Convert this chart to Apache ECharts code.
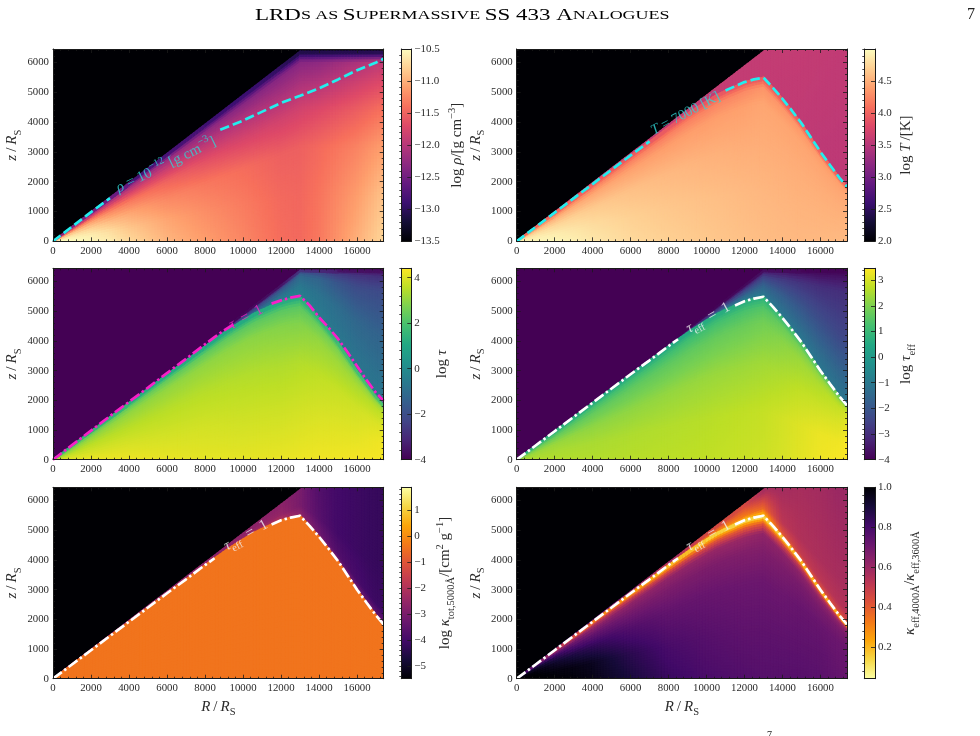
<!DOCTYPE html>
<html>
<head>
<meta charset="utf-8">
<style>html,body{margin:0;padding:0;background:#fff}#chart{width:980px;height:736px}</style>
<script src="https://cdn.jsdelivr.net/npm/echarts@6/dist/echarts.min.js"></script>
</head>
<body>
<div id="chart"></div>
<script>
// Sequential colour maps, evenly spaced stops
const magmaStops = ['#000004','#140e36','#3b0f70','#641a80','#8c2981','#b73779','#de4968','#f7705c','#fe9f6d','#fecf92','#fcfdbf'];
const infernoStops = ['#000004','#160b39','#420a68','#6a176e','#932667','#bc3754','#dd513a','#f37819','#fca50a','#f6d746','#fcffa4'];
const viridisStops = ['#440154','#482475','#414487','#355f8d','#2a788e','#21918c','#22a884','#44bf70','#7ad151','#bddf26','#fde725'];
const infernoReversed = infernoStops.slice().reverse();

// Colour bar ranges and tick values
const rhoRange = [-13.5, -10.5];
const rhoTicks = [-13.5, -13, -12.5, -12, -11.5, -11, -10.5];
const tempRange = [2, 5.01];
const tempTicks = [2, 2.5, 3, 3.5, 4, 4.5];
const tauRange = [-4, 4.41];
const tauTicks = [-4, -2, 0, 2, 4];
const tauEffRange = [-4, 3.46];
const tauEffTicks = [-4, -3, -2, -1, 0, 1, 2, 3];
const kappaRange = [-5.49, 1.87];
const kappaTicks = [-5, -4, -3, -2, -1, 0, 1];
const ratioRange = [0.042, 1];
const ratioTicks = [0.2, 0.4, 0.6, 0.8, 1];

// Spatial axes
const rMax = 17400;
const zMax = 6450;

// Edge of the simulated wedge
const wedgeR = [0, 13000, 17400];
const wedgeZ = [0, 6370, 6370];
const wedgeTallR = [0, 13200, 17400];
const wedgeTallZ = [0, 6460, 6460];

// Photosphere surface (tau_eff = 1) in R and z
const surfaceR = [0,1000,2000,3000,4000,5000,6000,7000,8000,8500,9000,9500,10000,10500,11000,11500,12000,12500,13000,13500,14000,14500,15000,15500,16000,16500,17000,17400];
const surfaceZ = [0,480,960,1440,1920,2400,2880,3350,3830,4060,4290,4500,4700,4900,5060,5200,5340,5430,5490,5150,4780,4380,3960,3480,3000,2560,2130,1830];
const tauContourZ = [0,490,980,1470,1950,2430,2920,3400,3890,4130,4360,4560,4760,4950,5110,5260,5370,5460,5520,5200,4800,4450,4070,3620,3150,2680,2250,1980];
const rhoContourR = [0,1000,2000,3000,8800,10000,12000,13000,14000,15000,16000,17000,17400];
const rhoContourZ = [0,490,980,1450,3740,4050,4640,4880,5130,5430,5740,6000,6120];

// Field grids: columns in R, rows as a fraction of the local height
const rhoColumns = [0,1000,2000,3000,4000,6000,8000,10000,12000,13000,14000,16000,17400];
const rhoLevels = [0,0.25,0.5,0.7,0.85,0.95,1];
const rhoValues = [
  [-10.5,-10.5,-10.55,-10.6,-10.72,-10.95,-11.1,-11.25,-11.42,-11.45,-11.35,-11.0,-10.75],
  [-10.5,-10.55,-10.6,-10.7,-10.85,-11.05,-11.2,-11.32,-11.45,-11.47,-11.38,-11.12,-10.88],
  [-10.7,-10.7,-10.8,-10.95,-11.05,-11.25,-11.35,-11.42,-11.52,-11.52,-11.45,-11.28,-11.1],
  [-10.9,-11.0,-11.1,-11.25,-11.35,-11.5,-11.65,-11.75,-11.8,-11.8,-11.72,-11.55,-11.4],
  [-11.4,-11.5,-11.6,-11.7,-11.8,-11.9,-12.0,-12.06,-12.12,-12.12,-12.06,-11.85,-11.72],
  [-12.05,-12.1,-12.15,-12.15,-12.2,-12.25,-12.3,-12.35,-12.35,-12.35,-12.3,-12.1,-11.95],
  [-12.7,-12.7,-12.8,-12.9,-13,-13,-13,-13,-13.1,-13.2,-13.2,-13.2,-13.2]
];

const innerColumns = [0,1000,2000,3000,4000,6000,8000,10000,12000,13000,14000,15000,16000,17000,17400];
const innerLevels = [0,0.3,0.6,0.85,0.95,1];
const outerColumns = [0,4000,8000,10000,11000,12000,13000,14000,15000,16000,17000,17400];

const tempInner = [
  [4.93,4.96,4.97,4.93,4.87,4.78,4.72,4.67,4.62,4.6,4.58,4.57,4.57,4.58,4.58],
  [4.93,4.93,4.9,4.85,4.8,4.72,4.66,4.62,4.58,4.56,4.55,4.54,4.54,4.54,4.54],
  [4.85,4.8,4.75,4.72,4.68,4.62,4.57,4.53,4.5,4.5,4.5,4.5,4.5,4.5,4.5],
  [4.6,4.55,4.5,4.47,4.45,4.42,4.4,4.4,4.42,4.45,4.45,4.45,4.45,4.45,4.45],
  [4.3,4.25,4.2,4.2,4.2,4.2,4.2,4.22,4.27,4.33,4.35,4.36,4.38,4.4,4.4],
  [3.9,3.9,3.88,3.88,3.86,3.86,3.86,3.86,3.88,3.9,3.9,3.92,3.92,3.92,3.92]
];
const tempOuterLevels = [0,1];
const tempOuter = [
  [3.6,3.6,3.6,3.6,3.6,3.6,3.6,3.59,3.58,3.56,3.55,3.55],
  [3.6,3.6,3.6,3.6,3.6,3.6,3.6,3.6,3.6,3.59,3.58,3.58]
];

const tauInner = [
  [4.0,4.1,4.2,4.2,4.2,4.15,4.1,4.1,4.15,4.2,4.25,4.25,4.3,4.3,4.3],
  [3.7,3.9,3.9,3.9,3.9,3.85,3.85,3.8,3.8,3.85,3.95,4.0,4.05,4.2,4.25],
  [3.2,3.4,3.5,3.5,3.5,3.5,3.5,3.45,3.4,3.45,3.6,3.7,3.8,3.95,4.0],
  [2.5,2.8,2.9,2.95,3.0,3.0,3.0,2.95,2.85,2.8,3.05,3.15,3.3,3.5,3.6],
  [1.8,2.1,2.3,2.3,2.3,2.3,2.3,2.25,2.2,2.2,2.5,2.7,2.85,3.0,3.1],
  [0.6,0.8,0.8,0.8,0.8,0.8,0.8,0.9,1.0,1.1,1.3,1.4,1.5,1.6,1.7]
];
const tauOuterLevels = [0,0.15,0.5,0.85,0.97,1];
const tauOuter = [
  [0,0,0,0,0,0,-0.2,-0.5,-0.6,-0.7,-0.7,-0.7],
  [-1,-1,-1,-1,-0.6,-0.4,-0.4,-0.6,-0.7,-0.8,-0.8,-0.8],
  [-2.5,-2.5,-2.5,-2,-1.6,-1,-0.7,-0.8,-1,-1.2,-1.3,-1.3],
  [-3.5,-3.5,-3.3,-3,-2.5,-2,-1.2,-1.3,-1.8,-2.1,-2.1,-2.1],
  [-3.9,-3.9,-3.9,-3.8,-3.5,-3.2,-2,-2.2,-2.6,-2.8,-2.9,-2.9],
  [-4,-4,-4,-4,-4,-4,-3.5,-3.8,-3.9,-3.9,-3.9,-3.9]
];

const tauEffInner = [
  [2.5,2.6,2.6,2.6,2.6,2.65,2.7,2.75,2.85,2.9,3.0,3.15,3.3,3.4,3.4],
  [2.4,2.5,2.5,2.5,2.5,2.55,2.6,2.65,2.75,2.8,2.95,3.1,3.25,3.3,3.4],
  [2.3,2.3,2.3,2.25,2.2,2.2,2.25,2.3,2.35,2.4,2.55,2.75,2.9,3.05,3.2],
  [1.7,1.7,1.65,1.6,1.6,1.6,1.6,1.65,1.75,1.85,2.1,2.35,2.55,2.8,2.95],
  [1.1,1.1,1.1,1.1,1.1,1.1,1.1,1.15,1.25,1.35,1.7,1.95,2.2,2.4,2.6],
  [0.4,0.4,0.4,0.4,0.4,0.4,0.4,0.5,0.6,0.7,1.0,1.2,1.4,1.6,1.8]
];
const tauEffOuterLevels = [0,0.15,0.5,0.85,0.97,1];
const tauEffOuter = [
  [0,0,0,0,0,-0.2,-0.7,-0.9,-0.95,-1.0,-1.05,-1.05],
  [-1.5,-1.5,-1.5,-1.3,-1.0,-0.9,-1.1,-1.2,-1.25,-1.3,-1.4,-1.4],
  [-3,-3,-3,-2.7,-2.2,-1.8,-1.7,-1.8,-2,-2.2,-2.4,-2.4],
  [-3.8,-3.8,-3.7,-3.5,-3.3,-3,-2.7,-2.8,-2.9,-3,-3.0,-3.0],
  [-4,-4,-4,-3.9,-3.8,-3.7,-3.4,-3.5,-3.6,-3.7,-3.7,-3.7],
  [-4,-4,-4,-4,-4,-4,-4,-4,-4,-4,-4,-4]
];

const kappaInnerLevels = [0,1];
const kappaInner = [
  [-0.42,-0.42,-0.42,-0.42,-0.42,-0.42,-0.42,-0.42,-0.42,-0.42,-0.42,-0.42,-0.42,-0.42,-0.42],
  [-0.42,-0.42,-0.42,-0.42,-0.42,-0.42,-0.42,-0.42,-0.42,-0.42,-0.42,-0.42,-0.42,-0.42,-0.42]
];
const kappaOuterLevels = [0,0.03,0.1,0.4,1];
const kappaOuter = [
  [-1,-1,-1,-1,-1,-1,-1.2,-1.2,-1.2,-1.2,-1.2,-1.2],
  [-1.5,-1.5,-1.5,-1.5,-1.5,-1.5,-2,-2.6,-3,-3.2,-3.5,-3.5],
  [-2,-2,-2,-2,-2,-2,-2.6,-3.2,-3.7,-3.9,-4.1,-4.1],
  [-2.5,-2.5,-2.5,-2.5,-2.5,-2.5,-3.0,-3.6,-4.0,-4.1,-4.2,-4.2],
  [-2.7,-2.7,-2.7,-2.7,-2.7,-2.7,-3.0,-3.7,-4.0,-4.1,-4.2,-4.2]
];

const ratioInnerLevels = [0,0.3,0.6,0.8,0.9,0.96,1];
const ratioInner = [
  [1,1,1,0.99,0.97,0.9,0.83,0.79,0.77,0.76,0.76,0.76,0.75,0.73,0.72],
  [1,1,0.98,0.97,0.95,0.86,0.79,0.76,0.74,0.74,0.74,0.74,0.74,0.72,0.72],
  [1,0.98,0.93,0.88,0.84,0.77,0.73,0.72,0.71,0.71,0.71,0.72,0.72,0.71,0.71],
  [0.98,0.93,0.85,0.76,0.72,0.68,0.67,0.67,0.66,0.66,0.67,0.68,0.68,0.68,0.68],
  [0.95,0.85,0.75,0.67,0.63,0.62,0.62,0.61,0.6,0.62,0.63,0.63,0.63,0.63,0.63],
  [0.9,0.75,0.62,0.55,0.52,0.46,0.42,0.4,0.38,0.4,0.44,0.48,0.5,0.5,0.5],
  [0.85,0.65,0.5,0.35,0.25,0.2,0.12,0.1,0.1,0.1,0.1,0.12,0.12,0.12,0.12]
];
const ratioOuterLevels = [0,0.03,0.1,0.3,1];
const ratioOuter = [
  [0.85,0.3,0.1,0.08,0.08,0.08,0.08,0.1,0.12,0.12,0.12,0.12],
  [0.9,0.35,0.15,0.1,0.1,0.1,0.1,0.3,0.38,0.42,0.45,0.45],
  [0.95,0.4,0.2,0.16,0.16,0.18,0.2,0.42,0.5,0.52,0.54,0.54],
  [1,0.6,0.35,0.3,0.3,0.32,0.36,0.52,0.55,0.56,0.57,0.57],
  [1,0.9,0.7,0.5,0.48,0.46,0.58,0.58,0.57,0.58,0.6,0.6]
];

// ---- drawing helpers ----
const SERIF = '"Liberation Serif"';
const INK = '#2b2b2b';
const NAME_SIZE = 15;

function hexRgb(h) { return [1, 3, 5].map(i => parseInt(h.substr(i, 2), 16)); }

function colourAt(stops, v, range) {
  let t = (v - range[0]) / (range[1] - range[0]);
  t = Math.min(1, Math.max(0, t)) * (stops.length - 1);
  const i = Math.min(stops.length - 2, Math.floor(t));
  const a = hexRgb(stops[i]), b = hexRgb(stops[i + 1]), f = t - i;
  return 'rgb(' + a.map((c, k) => Math.round(c + (b[k] - c) * f)).join(',') + ')';
}

function polyline(xs, ys) {
  return function (x) {
    if (x <= xs[0]) return ys[0];
    for (let i = 1; i < xs.length; i++) {
      if (x <= xs[i]) return ys[i - 1] + (ys[i] - ys[i - 1]) * (x - xs[i - 1]) / (xs[i] - xs[i - 1]);
    }
    return ys[ys.length - 1];
  };
}
const ground = () => 0;
const surface = polyline(surfaceR, surfaceZ);
const wedge = polyline(wedgeR, wedgeZ);
const wedgeTall = polyline(wedgeTallR, wedgeTallZ);

// Shaded field on a grid that follows the region's lower and upper edges;
// each cell is drawn with smooth shading between its four corner values.
function fieldSeries(axis, columns, levels, values, lower, upper, stops, range) {
  const cells = [];
  for (let j = 0; j < levels.length - 1; j++) {
    for (let i = 0; i < columns.length - 1; i++) {
      cells.push([columns[i], columns[i + 1], levels[j], levels[j + 1],
        values[j][i], values[j][i + 1], values[j + 1][i], values[j + 1][i + 1]]);
    }
  }
  return {
    type: 'custom', coordinateSystem: 'cartesian2d', xAxisIndex: axis, yAxisIndex: axis,
    silent: true, clip: true, z: 1, progressive: 0, animation: false, data: cells,
    renderItem(params, api) {
      const [r0, r1, l0, l1, a, b, c, d] = cells[params.dataIndex];
      const at = (r, l) => { const lo = lower(r), hi = upper(r); return api.coord([r, lo + (hi - lo) * l]); };
      const p00 = at(r0, l0), p01 = at(r0, l1), p10 = at(r1, l0), p11 = at(r1, l1);
      const nx = Math.max(1, Math.ceil(Math.abs(p10[0] - p00[0]) / 3));
      const ny = Math.max(1, Math.min(30, Math.ceil(Math.max(Math.abs(p01[1] - p00[1]), Math.abs(p11[1] - p10[1])) / 3)));
      const children = [];
      for (let x = 0; x < nx; x++) {
        const u0 = x / nx, u1 = (x + 1) / nx;
        const ra = r0 + (r1 - r0) * u0, rb = r0 + (r1 - r0) * u1;
        for (let y = 0; y < ny; y++) {
          const w0 = y / ny, w1 = (y + 1) / ny;
          const la = l0 + (l1 - l0) * w0, lb = l0 + (l1 - l0) * w1;
          const um = (u0 + u1) / 2, wm = (w0 + w1) / 2;
          const v = (a * (1 - um) + b * um) * (1 - wm) + (c * (1 - um) + d * um) * wm;
          const col = colourAt(stops, v, range);
          children.push({
            type: 'polygon',
            shape: { points: [at(ra, la), at(rb, la), at(rb, lb), at(ra, lb)] },
            style: { fill: col, stroke: col, lineWidth: 1.6 }
          });
        }
      }
      return { type: 'group', children };
    }
  };
}

function contourSeries(axis, xs, ys, gapFrom, gapTo, colour, dash, width) {
  const pts = xs.map((x, i) => [x, ys[i]]);
  const base = {
    type: 'line', xAxisIndex: axis, yAxisIndex: axis, showSymbol: false, symbol: 'none',
    silent: true, z: 3, animation: false,
    lineStyle: { color: colour, width, type: dash, cap: 'butt' }
  };
  return [
    Object.assign({}, base, { data: pts.filter(p => p[0] <= gapFrom) }),
    Object.assign({}, base, { data: pts.filter(p => p[0] >= gapTo) })
  ];
}

function richText(size, colour) {
  const base = { fontFamily: SERIF, fontSize: size, color: colour, lineHeight: size * 1.5 };
  const small = { fontFamily: SERIF, fontSize: size * 0.7, color: colour };
  return {
    r: base,
    m: Object.assign({}, base, { fontStyle: 'italic' }),
    sub: Object.assign({}, small, { verticalAlign: 'bottom' }),
    sup: Object.assign({}, small, { verticalAlign: 'top' })
  };
}

function contourLabel(axis, point, text, colour, size, angle) {
  return {
    type: 'scatter', xAxisIndex: axis, yAxisIndex: axis, symbolSize: 0, silent: true, z: 4, animation: false,
    data: [point],
    label: { show: true, position: 'inside', rotate: angle, formatter: text, rich: richText(size, colour), color: colour }
  };
}

function colourBarSeries(axis, stops, range) {
  const gradient = stops.map((c, i) => ({ offset: 1 - i / (stops.length - 1), color: c })).reverse();
  return {
    type: 'custom', coordinateSystem: 'cartesian2d', xAxisIndex: axis, yAxisIndex: axis,
    silent: true, z: 1, animation: false, data: [[0, range[0], 1, range[1]]],
    renderItem(params, api) {
      const a = api.coord([0, range[1]]), b = api.coord([1, range[0]]);
      return {
        type: 'rect', shape: { x: a[0], y: a[1], width: b[0] - a[0], height: b[1] - a[1] },
        style: { fill: new echarts.graphic.LinearGradient(0, 0, 0, 1, gradient) }
      };
    }
  };
}

function minorValues(ticks, range) {
  const step = (ticks[1] - ticks[0]) / 5, out = [];
  for (let k = -10; k < ticks.length * 5 + 10; k++) {
    const v = ticks[0] + k * step;
    if (v > range[0] && v < range[1]) out.push(+v.toFixed(4));
  }
  return out;
}

const signed = v => String(v).replace('-', '\u2212');
const lineCommon = { show: true, onZero: false, lineStyle: { color: '#1a1a1a', width: 1 } };
const tickStyle = { color: '#1a1a1a', width: 0.8 };

const grids = [], xAxes = [], yAxes = [], series = [];

function addPlot(left, top, right, bottom, opts) {
  const axis = grids.length;
  grids.push({ left, top, width: right - left, height: bottom - top, show: true, backgroundColor: opts.background, borderWidth: 0 });
  const labelStyle = { show: true, color: INK, fontFamily: SERIF, fontSize: 10.8, margin: 4, showMaxLabel: false, formatter: v => String(v) };
  const xBase = { type: 'value', gridIndex: axis, min: 0, max: rMax, interval: 2000, z: 5, splitLine: { show: false }, axisLine: lineCommon,
    axisTick: { show: true, inside: true, length: 4, lineStyle: tickStyle }, minorTick: { show: true, splitNumber: 5, length: 2, lineStyle: tickStyle } };
  const yBase = Object.assign({}, xBase, { min: 0, max: zMax, interval: 1000 });
  xAxes.push(Object.assign({}, xBase, { position: 'bottom', axisLabel: labelStyle,
    name: opts.xName ? '{m|R}{r|\u2009/\u2009}{m|R}{sub|S}' : '', nameLocation: 'middle', nameGap: 17,
    nameTextStyle: { rich: richText(NAME_SIZE, INK), color: INK } }));
  yAxes.push(Object.assign({}, yBase, { position: 'left', axisLabel: labelStyle,
    name: '{m|z}{r|\u2009/\u2009}{m|R}{sub|S}', nameLocation: 'middle', nameGap: 27, nameRotate: 90,
    nameTextStyle: { rich: richText(NAME_SIZE, INK), color: INK } }));
  return axis;
}

function addColourBar(left, top, right, bottom, stops, range, ticks, name, gap, digits) {
  const axis = grids.length;
  grids.push({ left, top, width: right - left, height: bottom - top, borderWidth: 0 });
  xAxes.push({ type: 'value', gridIndex: axis, min: 0, max: 1, position: 'bottom', z: 5, splitLine: { show: false },
    axisLine: lineCommon, axisTick: { show: false }, axisLabel: { show: false } });
  yAxes.push({ type: 'value', gridIndex: axis, min: range[0], max: range[1], position: 'right', z: 5, splitLine: { show: false },
    axisLine: lineCommon,
    axisTick: { show: true, inside: true, length: 4, lineStyle: tickStyle, customValues: ticks },
    axisLabel: { show: true, color: INK, fontFamily: SERIF, fontSize: 11, margin: 3, customValues: ticks,
      formatter: v => signed(v.toFixed(digits)) },
    name, nameLocation: 'middle', nameGap: gap, nameRotate: 90, nameMoveOverlap: false,
    nameTextStyle: { rich: richText(NAME_SIZE, INK), color: INK } });
  series.push(colourBarSeries(axis, stops, range));
  return axis;
}

const leftCol = [53, 383.7], rightCol = [516.7, 847];
const row1 = [49, 241.3], row2 = [268.3, 459.7], row3 = [487.3, 678.7];
const barLeft = [401.3, 411.3], barRight = [864.3, 875];
const DASH = [9.5, 4], DASHDOT = [11, 3, 2.5, 3];

// Density
let a = addPlot(leftCol[0], row1[0], leftCol[1], row1[1], { background: '#000004' });
series.push(fieldSeries(a, rhoColumns, rhoLevels, rhoValues, ground, wedge, magmaStops, rhoRange));
series.push(...contourSeries(a, rhoContourR, rhoContourZ, 3000, 8800, '#22eeee', DASH, 2.7));
series.push(contourLabel(a, [5950, 2560], '{m|\u03C1}{r| = 10}{sup|\u221212}{r| [g cm}{sup|\u22123}{r|]}', '#2fd4d4', 15, 26));

// Temperature
a = addPlot(rightCol[0], row1[0], rightCol[1], row1[1], { background: '#000004' });
series.push(fieldSeries(a, outerColumns, tempOuterLevels, tempOuter, surface, wedgeTall, magmaStops, tempRange));
series.push(fieldSeries(a, innerColumns, innerLevels, tempInner, ground, surface, magmaStops, tempRange));
series.push(...contourSeries(a, surfaceR, surfaceZ, 7000, 11000, '#22eeee', DASH, 2.7));
series.push(contourLabel(a, [8900, 4280], '{m|T}{r| = 7000 [K]}', '#2fd4d4', 14.5, 28));

// Optical depth
a = addPlot(leftCol[0], row2[0], leftCol[1], row2[1], { background: '#440154' });
series.push(fieldSeries(a, outerColumns, tauOuterLevels, tauOuter, surface, wedge, viridisStops, tauRange));
series.push(fieldSeries(a, innerColumns, innerLevels, tauInner, ground, surface, viridisStops, tauRange));
series.push(...contourSeries(a, surfaceR, tauContourZ, 9500, 11500, '#f81fc8', DASHDOT, 2.7));
series.push(contourLabel(a, [10160, 4800], '{m|\u03C4}{r|\u2002=\u20021}', '#f81fc8', 15, 28));

// Effective optical depth
a = addPlot(rightCol[0], row2[0], rightCol[1], row2[1], { background: '#440154' });
series.push(fieldSeries(a, outerColumns, tauEffOuterLevels, tauEffOuter, surface, wedge, viridisStops, tauEffRange));
series.push(fieldSeries(a, innerColumns, innerLevels, tauEffInner, ground, surface, viridisStops, tauEffRange));
series.push(...contourSeries(a, surfaceR, surfaceZ, 8500, 11500, '#ffffff', DASHDOT, 2.7));
series.push(contourLabel(a, [10090, 4780], '{m|\u03C4}{sub|eff}{r|\u2002=\u20021}', '#f2f2f2', 15, 29));

// Total opacity at 5000 angstrom
a = addPlot(leftCol[0], row3[0], leftCol[1], row3[1], { background: '#000004', xName: true });
series.push(fieldSeries(a, outerColumns, kappaOuterLevels, kappaOuter, surface, wedgeTall, infernoStops, kappaRange));
series.push(fieldSeries(a, innerColumns, kappaInnerLevels, kappaInner, ground, surface, infernoStops, kappaRange));
series.push(...contourSeries(a, surfaceR, surfaceZ, 8500, 11500, '#ffffff', DASHDOT, 2.7));
series.push(contourLabel(a, [10160, 4830], '{m|\u03C4}{sub|eff}{r|\u2002=\u20021}', '#f2f2f2', 15, 29));

// Opacity ratio between 4000 and 3600 angstrom
a = addPlot(rightCol[0], row3[0], rightCol[1], row3[1], { background: '#000004', xName: true });
series.push(fieldSeries(a, outerColumns, ratioOuterLevels, ratioOuter, surface, wedgeTall, infernoReversed, ratioRange));
series.push(fieldSeries(a, innerColumns, ratioInnerLevels, ratioInner, ground, surface, infernoReversed, ratioRange));
series.push(...contourSeries(a, surfaceR, surfaceZ, 8500, 11500, '#ffffff', DASHDOT, 2.7));
series.push(contourLabel(a, [10090, 4810], '{m|\u03C4}{sub|eff}{r|\u2002=\u20021}', '#f2f2f2', 15, 29));

const plotCount = grids.length;

addColourBar(barLeft[0], row1[0], barLeft[1], row1[1], magmaStops, rhoRange, rhoTicks,
  '{r|log }{m|\u03C1}{r|/[g cm}{sup|\u22123}{r|]}', 35, 1);
addColourBar(barRight[0], row1[0], barRight[1], row1[1], magmaStops, tempRange, tempTicks,
  '{r|log }{m|T}{r|\u2009/[K]}', 20, 1);
addColourBar(barLeft[0], row2[0], barLeft[1], row2[1], viridisStops, tauRange, tauTicks,
  '{r|log }{m|\u03C4}', 20, 0);
addColourBar(barRight[0], row2[0], barRight[1], row2[1], viridisStops, tauEffRange, tauEffTicks,
  '{r|log }{m|\u03C4}{sub|eff}', 20, 0);
addColourBar(barLeft[0], row3[0], barLeft[1], row3[1], infernoStops, kappaRange, kappaTicks,
  '{r|log }{m|\u03BA}{sub|tot,5000\u00C5}{r|/[cm}{sup|2}{r| g}{sup|\u22121}{r|]}', 23, 0);
addColourBar(barRight[0], row3[0], barRight[1], row3[1], infernoReversed, ratioRange, ratioTicks,
  '{m|\u03BA}{sub|eff,4000\u00C5}{r|/}{m|\u03BA}{sub|eff,3600\u00C5}', 24, 1);

// Mirrored top/right frame axes for the plots, left frame and minor ticks for the bars
const allGrids = grids.length;
for (let g = 0; g < allGrids; g++) {
  if (g < plotCount) {
    xAxes.push(Object.assign({}, xAxes[g], { position: 'top', axisLabel: { show: false }, name: '' }));
    yAxes.push(Object.assign({}, yAxes[g], { position: 'right', axisLabel: { show: false }, name: '' }));
  } else {
    const range = [yAxes[g].min, yAxes[g].max];
    const ticks = yAxes[g].axisTick.customValues;
    xAxes.push(Object.assign({}, xAxes[g], { position: 'top' }));
    yAxes.push({ type: 'value', gridIndex: g, min: range[0], max: range[1], position: 'right', z: 5,
      splitLine: { show: false }, axisLine: { show: false }, axisLabel: { show: false },
      axisTick: { show: true, inside: true, length: 2, lineStyle: tickStyle, customValues: minorValues(ticks, range) } });
    yAxes.push({ type: 'value', gridIndex: g, min: range[0], max: range[1], position: 'left', z: 5,
      splitLine: { show: false }, axisLine: lineCommon, axisTick: { show: false }, axisLabel: { show: false } });
  }
}

const headerRich = {
  b: { fontFamily: SERIF, fontSize: 17, color: '#222' },
  s: { fontFamily: SERIF, fontSize: 13.3, color: '#222' }
};

const chart = echarts.init(document.getElementById('chart'), null, { renderer: 'canvas', width: 980, height: 736 });
chart.setOption({
  animation: false,
  backgroundColor: '#ffffff',
  textStyle: { fontFamily: SERIF },
  grid: grids,
  xAxis: xAxes,
  yAxis: yAxes,
  series,
  graphic: [
    { type: 'text', x: 255, y: 7, scaleX: 1.35, z: 10, silent: true,
      style: { text: '{b|LRD}{s|S AS }{b|S}{s|UPERMASSIVE }{b|SS 433 A}{s|NALOGUES}', rich: headerRich, fontFamily: SERIF, fontSize: 17 } },
    { type: 'text', x: 967, y: 7, z: 10, silent: true,
      style: { text: '7', fontFamily: SERIF, fontSize: 16, fill: '#222' } },
    { type: 'text', x: 767, y: 730, z: 10, silent: true,
      style: { text: '7', fontFamily: SERIF, fontSize: 10, fill: '#222' } }
  ]
});
</script>
</body>
</html>
